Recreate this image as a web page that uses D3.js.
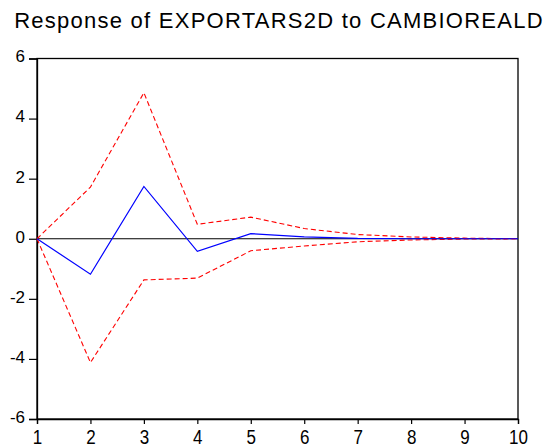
<!DOCTYPE html>
<html>
<head>
<meta charset="utf-8">
<script src="https://cdn.jsdelivr.net/npm/d3@7"></script>
<style>
  body { margin: 0; background: #fff; }
  svg { font-family: "Liberation Sans", Arial, sans-serif; }
</style>
</head>
<body>
<svg id="chart" width="547" height="447"></svg>
<script>
// Data
const periods = [1, 2, 3, 4, 5, 6, 7, 8, 9, 10];
const response = [0, -1.18, 1.74, -0.42, 0.17, 0.06, 0.01, 0.0, 0.0, 0.0];
const upperBand = [0, 1.72, 4.86, 0.48, 0.72, 0.34, 0.14, 0.06, 0.02, 0.0];
const lowerBand = [0, -4.12, -1.37, -1.31, -0.40, -0.24, -0.10, -0.04, -0.01, 0.0];
const yTicks = [-6, -4, -2, 0, 2, 4, 6];
const title = "Response of EXPORTARS2D to CAMBIOREALD";

const svg = d3.select("#chart");
const margin = {left: 37, right: 29, top: 58.5, bottom: 28};
const width = 547, height = 447;

const x = d3.scaleLinear().domain([1, 10]).range([margin.left, width - margin.right]);
const y = d3.scaleLinear().domain([-6, 6]).range([height - margin.bottom, margin.top]);

// plain hyphen for negatives, like the original
const fmt = d => String(d);

// Title
svg.append("text")
    .attr("x", 279)
    .attr("y", 28.3)
    .attr("text-anchor", "middle")
    .attr("font-size", 22)
    .attr("letter-spacing", 1.25)
    .attr("fill", "#000")
    .text(title);

// Frame
svg.append("rect")
    .attr("x", x(1))
    .attr("y", y(6))
    .attr("width", x(10) - x(1))
    .attr("height", y(-6) - y(6))
    .attr("fill", "none")
    .attr("stroke", "#000")
    .attr("stroke-width", 1.3);

// Axes
const yAxis = svg.append("g")
    .attr("transform", `translate(${x(1)},0)`)
    .call(d3.axisLeft(y).tickValues(yTicks).tickSize(8).tickPadding(4).tickFormat(fmt));
const xAxis = svg.append("g")
    .attr("transform", `translate(0,${y(-6)})`)
    .call(d3.axisBottom(x).tickValues(periods).tickSize(5).tickFormat(fmt));

[yAxis, xAxis].forEach(g => {
    g.select(".domain").attr("stroke", "#000").attr("stroke-width", 1.3);
    g.selectAll(".tick line").attr("stroke", "#000").attr("stroke-width", 1.2);
    g.selectAll(".tick text")
        .attr("font-size", 17)
        .attr("font-family", "Liberation Sans, Arial, sans-serif")
        .attr("fill", "#000");
});
yAxis.selectAll(".tick text").attr("dy", "0.2em");
// x labels in the original are a bit taller than wide
xAxis.selectAll(".tick text")
    .attr("y", 0)
    .attr("dy", 0)
    .attr("transform", "translate(0,24.5) scale(1,1.22)");

// Zero line
svg.append("line")
    .attr("x1", x(1))
    .attr("x2", x(10))
    .attr("y1", y(0))
    .attr("y2", y(0))
    .attr("stroke", "#000")
    .attr("stroke-width", 1);

const line = d3.line()
    .x((d, i) => x(periods[i]))
    .y(d => y(d));

// Bands
[upperBand, lowerBand].forEach(band => {
    svg.append("path")
        .datum(band)
        .attr("d", line)
        .attr("fill", "none")
        .attr("stroke", "#ff0000")
        .attr("stroke-width", 1.1)
        .attr("stroke-dasharray", "5,3");
});

// Response
svg.append("path")
    .datum(response)
    .attr("d", line)
    .attr("fill", "none")
    .attr("stroke", "#0000ff")
    .attr("stroke-width", 1.2);
</script>
</body>
</html>
